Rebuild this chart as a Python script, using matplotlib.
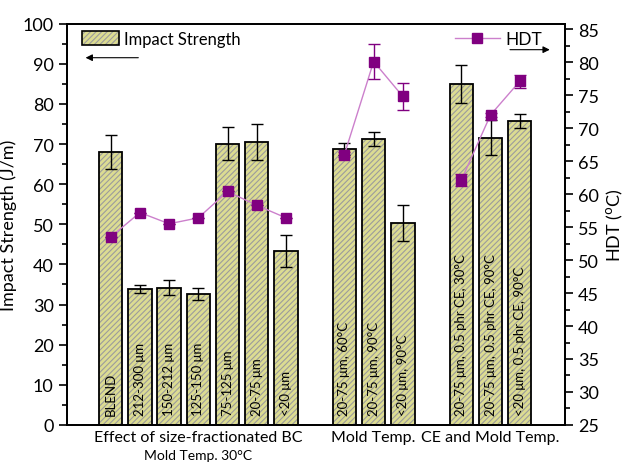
import matplotlib
matplotlib.use("Agg")
import matplotlib.pyplot as plt
import numpy as np
from matplotlib.patches import Patch
from matplotlib.lines import Line2D

plt.rcParams['font.family'] = ['Lato', 'DejaVu Sans']
plt.rcParams['hatch.linewidth'] = 0.8

# ---- data ----
bar_labels = ["BLEND", "212-300 \u03bcm", "150-212 \u03bcm", "125-150 \u03bcm", "75-125 \u03bcm",
              "20-75 \u03bcm", "<20 \u03bcm",
              "20-75 \u03bcm, 60\u00b0C", "20-75 \u03bcm, 90\u00b0C", "<20 \u03bcm, 90\u00b0C",
              "20-75 \u03bcm, 0.5 phr CE, 30\u00b0C", "20-75 \u03bcm, 0.5 phr CE, 90\u00b0C",
              "<20 \u03bcm, 0.5 phr CE, 90\u00b0C"]
slots = [1, 2, 3, 4, 5, 6, 7, 9, 10, 11, 13, 14, 15]
impact = [68.0, 33.9, 34.2, 32.6, 70.1, 70.4, 43.3, 68.7, 71.2, 50.3, 85.0, 71.6, 75.7]
impact_err = [4.3, 1.0, 1.8, 1.5, 4.2, 4.5, 4.0, 1.5, 1.8, 4.4, 4.7, 4.4, 1.7]
hdt = [53.5, 57.2, 55.5, 56.4, 60.4, 58.3, 56.4, 66.0, 80.1, 74.8, 62.1, 72.0, 77.1]
hdt_err = [0, 0, 0, 0, 0, 0, 0, 0.4, 2.6, 2.0, 0.9, 0.3, 1.0]
group_labels = ["Effect of size-fractionated BC", "Mold Temp.", "CE and Mold Temp."]
group_sub = "Mold Temp. 30\u00b0C"
group_centers = [4, 10, 14]
segments = [(0, 7), (7, 10), (10, 13)]

fig = plt.figure(figsize=(6.25, 4.64), dpi=100)
ax = fig.add_axes([0.107, 0.082, 0.797, 0.865])
ax2 = ax.twinx()

face = '#dcdc92'
hatch_col = '#9c9c9c'
bars = ax.bar(slots, impact, width=0.8, color=face, edgecolor='black', linewidth=1.3,
              zorder=2)
for b in bars:
    b.set_hatch('//////')
    b._hatch_color = matplotlib.colors.to_rgba(hatch_col)
ax.errorbar(slots, impact, yerr=impact_err, fmt='none', ecolor='black', elinewidth=1,
            capsize=4, capthick=1, zorder=3)

for x, lab in zip(slots, bar_labels):
    ax.text(x, 2.5, lab, rotation=90, ha='center', va='bottom', fontsize=9.5, zorder=4)

ax.set_xlim(-0.5, 16.55)
ax.set_ylim(0, 100)
ax.set_yticks(np.arange(0, 101, 10))
ax.set_yticks(np.arange(0, 101, 5), minor=True)
ax.set_xticks([])
ax.tick_params(axis='y', which='major', length=6, width=1.2, labelsize=13, direction='out')
ax.tick_params(axis='y', which='minor', length=3.5, width=1.2, direction='out')
ax.set_ylabel("Impact Strength (J/m)", fontsize=13, labelpad=4)
for s in ax.spines.values():
    s.set_linewidth(1.3)

# HDT
for a, b in segments:
    ax2.plot(slots[a:b], hdt[a:b], color='#cc80cc', lw=1, zorder=5)
ax2.errorbar(slots, hdt, yerr=hdt_err, fmt='s', color='#800080', ms=6.5, ecolor='#800080',
             elinewidth=1, capsize=4, capthick=1, zorder=6)
ax2.set_ylim(25, 85.85)
ax2.set_yticks(np.arange(25, 86, 5))
ax2.set_yticks(np.arange(25, 86, 2.5), minor=True)
ax2.tick_params(axis='y', which='major', length=6, width=1.2, labelsize=13, direction='out')
ax2.tick_params(axis='y', which='minor', length=3.5, width=1.2, direction='out')
ax2.set_ylabel("HDT ($^{\\mathrm{o}}$C)", fontsize=13, labelpad=4)
for s in ax2.spines.values():
    s.set_linewidth(1.3)

# group labels
for xc, gl in zip(group_centers, group_labels):
    ax.text(xc, -1.3, gl, ha='center', va='top', fontsize=11.5, clip_on=False)
ax.text(group_centers[0], -6.0, group_sub, ha='center', va='top', fontsize=10,
        clip_on=False)

# legends
ph = Patch(facecolor=face, edgecolor='black', hatch='//////', linewidth=1.2)
ph._hatch_color = matplotlib.colors.to_rgba(hatch_col)
ax.legend([ph], ["Impact Strength"], loc='upper left', frameon=False, fontsize=12,
          bbox_to_anchor=(0.0, 1.02), handlelength=2.2, handleheight=1.0,
          handletextpad=0.3)
lh = Line2D([], [], color='#cc80cc', lw=1, marker='s', ms=6.5, mfc='#800080', mec='#800080')
ax2.legend([lh], ["HDT"], loc='upper right', frameon=False, fontsize=12.5,
           bbox_to_anchor=(0.985, 1.02), handlelength=2.6, handletextpad=0.3)

ax.annotate("", xy=(0.032, 0.915), xytext=(0.149, 0.915), xycoords='axes fraction',
            arrowprops=dict(arrowstyle='-|>', color='black', lw=0.8, mutation_scale=10))
ax.annotate("", xy=(0.975, 0.935), xytext=(0.884, 0.935), xycoords='axes fraction',
            arrowprops=dict(arrowstyle='-|>', color='black', lw=0.8, mutation_scale=10))

fig.savefig("out.png", dpi=100)
